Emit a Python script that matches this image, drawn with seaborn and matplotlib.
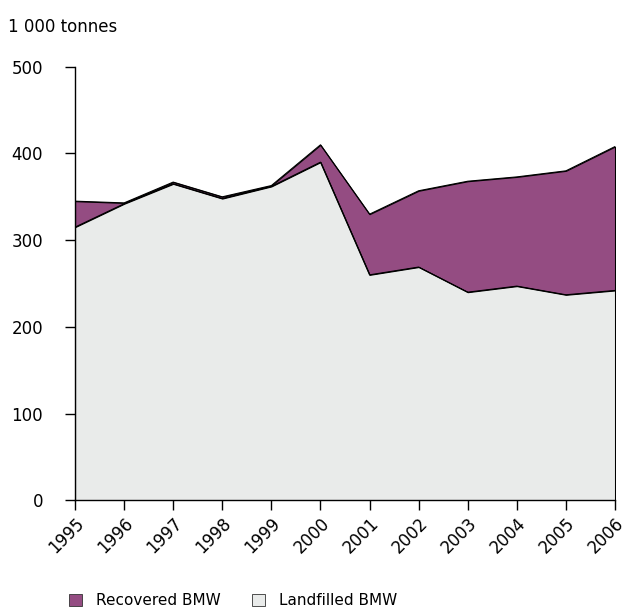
import numpy as np
import pandas as pd
import matplotlib
matplotlib.use("Agg")
import matplotlib.pyplot as plt
from matplotlib.patches import Patch
import seaborn as sns

years = [1995, 1996, 1997, 1998, 1999, 2000, 2001, 2002, 2003, 2004, 2005, 2006]
landfilled = [315, 342, 365, 348, 362, 390, 260, 269, 240, 247, 237, 242]
recovered = [30, 1, 2, 2, 1, 20, 70, 88, 128, 126, 143, 166]

purple = "#944c82"
grey = "#e9ebea"

sns.set_theme(style="ticks")
plt.rcParams["font.family"] = ["DejaVu Sans"]

df = pd.DataFrame({"year": years, "landfilled": landfilled, "recovered": recovered})
df["total"] = df["landfilled"] + df["recovered"]

fig = plt.figure(figsize=(6.27, 6.13), dpi=100)
ax = fig.add_axes([0.1196, 0.184, 0.8613, 0.707])

ax.fill_between(df["year"], df["landfilled"], df["total"], facecolor=purple,
                edgecolor="black", linewidth=0.8)
ax.fill_between(df["year"], 0, df["landfilled"], facecolor=grey,
                edgecolor="black", linewidth=0.8)
sns.lineplot(data=df, x="year", y="total", color="black", linewidth=0.8, ax=ax)
sns.lineplot(data=df, x="year", y="landfilled", color="black", linewidth=0.8, ax=ax)

ax.set_xlim(1995, 2006)
ax.set_ylim(0, 500)
ax.set_yticks([0, 100, 200, 300, 400, 500])
ax.set_xticks(years)
ax.set_xticklabels([str(y) for y in years], rotation=45, ha="right",
                   rotation_mode="anchor", fontsize=12)
ax.tick_params(axis="y", labelsize=12, length=7, width=1, pad=16, colors="black")
ax.tick_params(axis="x", length=7, width=1, pad=3, colors="black")
ax.set_xlabel("")
ax.set_ylabel("")
for s in ["top", "right"]:
    ax.spines[s].set_visible(False)
for s in ["left", "bottom"]:
    ax.spines[s].set_color("black")
    ax.spines[s].set_linewidth(1)

fig.text(0.013, 0.956, "1 000 tonnes", fontsize=12, ha="left", va="center", color="black")

handles = [Patch(facecolor=purple, edgecolor="#333333", linewidth=0.6, label="Recovered BMW"),
           Patch(facecolor=grey, edgecolor="#333333", linewidth=0.6, label="Landfilled BMW")]
leg = fig.legend(handles=handles, loc="center left", bbox_to_anchor=(0.088, 0.02), ncol=2,
                 frameon=False, fontsize=11, handlelength=0.85, handleheight=0.85,
                 handletextpad=0.9, columnspacing=2.1)
for t in leg.get_texts():
    t.set_color("black")

fig.savefig("out.png", dpi=100)
